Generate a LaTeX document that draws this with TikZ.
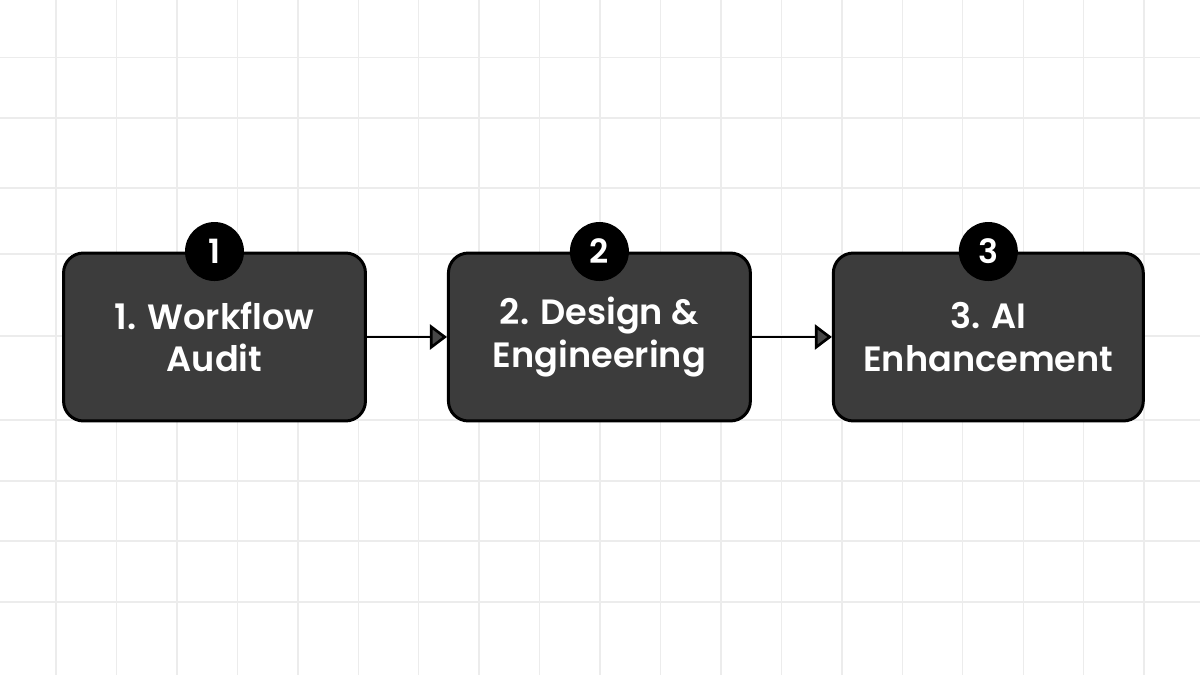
\documentclass[tikz,border=0pt]{standalone}
\usepackage{fontspec}
\setmainfont{Poppins}[BoldFont={Poppins SemiBold}]
\usepackage{xcolor}
\usepackage{tikz}
\usetikzlibrary{arrows.meta, positioning}
\definecolor{stageFill}{RGB}{60,60,60}
\definecolor{gridLine}{RGB}{236,236,236}

\begin{document}
\begin{tikzpicture}[
    x=0.02cm, y=-0.02cm,
    node distance=1.6cm,
    stage/.style={draw=black, fill=stageFill, rounded corners=0.4cm, line width=1.7pt,
      minimum width=6.04cm, minimum height=3.36cm, align=center, text=white,
      font=\fontsize{20}{24}\selectfont\bfseries, inner sep=4pt},
    badge/.style={circle, fill=black, minimum size=1.18cm, inner sep=0pt, text=white,
      font=\fontsize{19}{19}\selectfont\bfseries},
    arr/.style={-{Triangle[length=3.4mm,width=5mm,fill=black!72]}, line width=1.5pt, draw=black}
  ]
    \useasboundingbox (0,0) rectangle (1200,675);
    % grid
    \foreach \gx in {0,...,18}
      \draw[gridLine, line width=0.8pt] ({56+60.45*\gx},0) -- ({56+60.45*\gx},675);
    \foreach \gy in {57.5,118,188,254,336,420,481,541,602}
      \draw[gridLine, line width=0.8pt] (0,\gy) -- (1200,\gy);

    \node[stage] (s1) at (214.5,337) {1. Workflow\\Audit};
    \node[stage, right=of s1] (s2) {2. Design \&\\Engineering};
    \node[stage, right=of s2, minimum width=6.2cm] (s3) {3. AI\\Enhancement};
    \node[badge] (b1) at (s1.north) {1};
    \node[badge] (b2) at (s2.north) {2};
    \node[badge] (b3) at (s3.north) {3};
    \draw[arr] (s1) -- (s2);
    \draw[arr] (s2) -- (s3);
  \end{tikzpicture}
\end{document}
